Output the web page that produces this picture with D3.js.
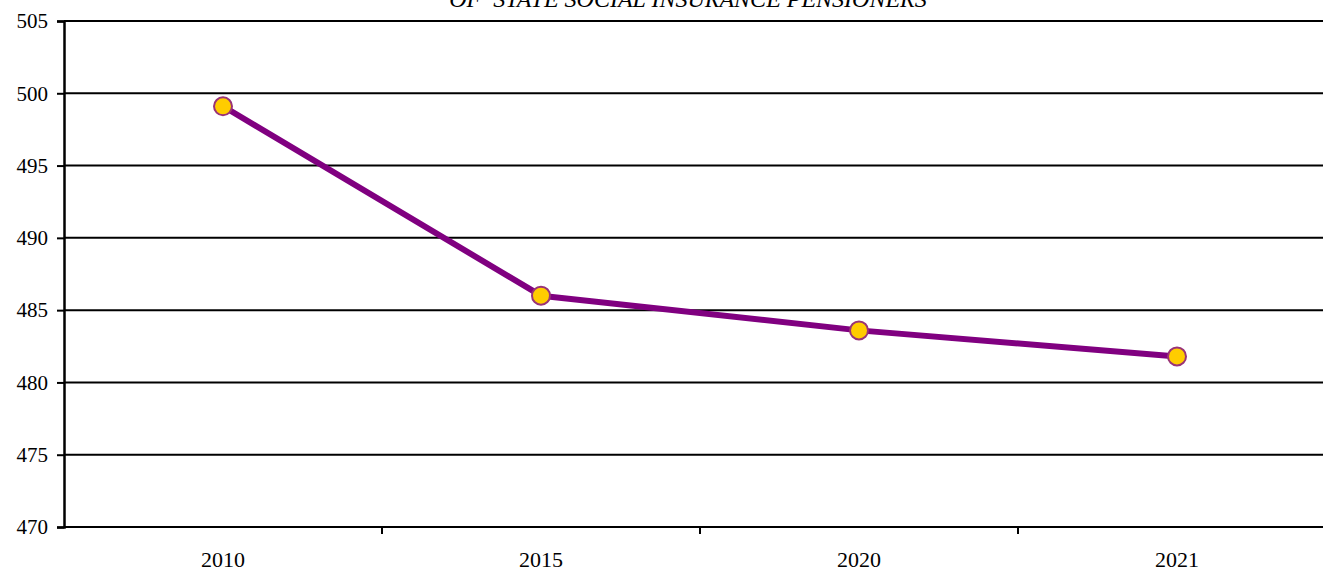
<!DOCTYPE html>
<html>
<head>
<meta charset="utf-8">
<script src="https://cdn.jsdelivr.net/npm/d3@7"></script>
<style>
  body { margin: 0; background: #fff; }
  svg text { font-family: 'Liberation Serif', 'Times New Roman', serif; }
</style>
</head>
<body>
<div id="chart"></div>
<script>
// chart data
var years = ['2010', '2015', '2020', '2021']
var pensioners = [499.1, 486.0, 483.6, 481.8]
var yTicks = [470, 475, 480, 485, 490, 495, 500, 505]
var titleText = 'OF  STATE SOCIAL INSURANCE PENSIONERS'

// layout settings
var width = 1323
var height = 571
var margin = { left: 64, top: 21, bottom: 44 }
// the plot runs past the right edge of the picture
var plotWidth = 1272
var plotHeight = height - margin.top - margin.bottom
var serif = "'Liberation Serif', 'Times New Roman', serif"

var svg = d3.select('#chart')
  .append('svg')
  .attr('width', width)
  .attr('height', height)

var g = svg.append('g')
  .attr('transform', 'translate(' + margin.left + ',' + margin.top + ')')

var xScale = d3.scaleBand().domain(years).range([0, plotWidth])
var yScale = d3.scaleLinear().domain([470, 505]).range([plotHeight, 0])

// title, clipped at the top in the original
svg.append('text')
  .attr('x', 688)
  .attr('y', 7)
  .attr('text-anchor', 'middle')
  .attr('font-style', 'italic')
  .attr('font-size', 24)
  .style('white-space', 'pre')
  .text(titleText)

// horizontal grid lines
g.append('g')
  .selectAll('line')
  .data(yTicks)
  .enter()
  .append('line')
  .attr('x1', 0)
  .attr('x2', plotWidth)
  .attr('y1', function (d) { return yScale(d) })
  .attr('y2', function (d) { return yScale(d) })
  .attr('stroke', 'black')
  .attr('stroke-width', 2)

// y axis
var yAxis = d3.axisLeft(yScale).tickValues(yTicks).tickSize(7).tickPadding(9)
g.append('g')
  .call(yAxis)
  .call(function (a) {
    a.select('.domain').attr('stroke-width', 2.5)
    a.selectAll('.tick line').attr('stroke-width', 2)
    a.selectAll('text').attr('font-size', 21).attr('fill', 'black')
      .style('font-family', serif)
  })

// x axis: ticks between the categories
var xAxis = d3.axisBottom(xScale).tickSize(0).tickPadding(24)
var xg = g.append('g')
  .attr('transform', 'translate(0,' + plotHeight + ')')
  .call(xAxis)
xg.select('.domain').remove()
xg.selectAll('text').attr('font-size', 22).attr('fill', 'black')
  .style('font-family', serif)
xg.selectAll('.sep')
  .data(years.slice(1))
  .enter()
  .append('line')
  .attr('class', 'sep')
  .attr('x1', function (d) { return xScale(d) })
  .attr('x2', function (d) { return xScale(d) })
  .attr('y1', 0)
  .attr('y2', 7)
  .attr('stroke', 'black')
  .attr('stroke-width', 2)

// line
var line = d3.line()
  .x(function (d, i) { return xScale(years[i]) + xScale.bandwidth() / 2 })
  .y(function (d) { return yScale(d) })

g.append('path')
  .datum(pensioners)
  .attr('fill', 'none')
  .attr('stroke', '#800080')
  .attr('stroke-width', 6)
  .attr('stroke-linejoin', 'round')
  .attr('d', line)

// markers
g.append('g')
  .selectAll('circle')
  .data(pensioners)
  .enter()
  .append('circle')
  .attr('cx', function (d, i) { return xScale(years[i]) + xScale.bandwidth() / 2 })
  .attr('cy', function (d) { return yScale(d) })
  .attr('r', 9)
  .attr('fill', '#FFCC00')
  .attr('stroke', '#993377')
  .attr('stroke-width', 2)
</script>
</body>
</html>
